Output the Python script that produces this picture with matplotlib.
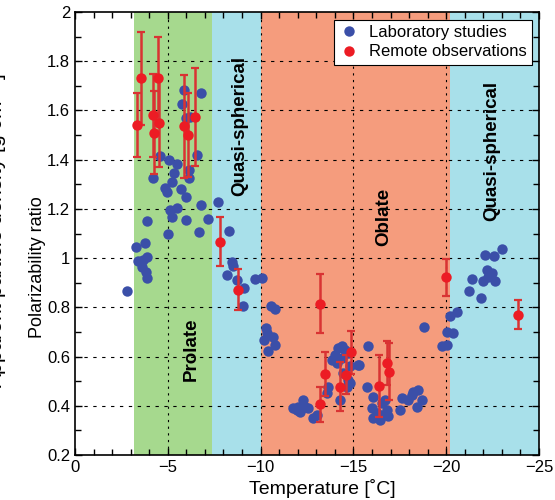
import matplotlib
matplotlib.use('agg')
import matplotlib.pyplot as plt
from matplotlib.ticker import MultipleLocator

plt.rcParams['font.family'] = ['Liberation Sans', 'DejaVu Sans']

# laboratory studies (temperature, polarizability ratio)
lab_t = [-2.78, -3.29, -3.77, -3.41, -3.68, -3.9, -3.59, -3.83, -3.9, -3.9,
         -4.19, -4.58, -4.85, -4.95, -5.06, -5.33, -5.48, -5.21,
         -5.89, -5.75, -6.77, -5.98, -6.2, -6.57, -6.16, -6.14, -5.69, -5.98,
         -7.7, -6.8, -5.12, -5.48, -5.21, -5.98, -7.18, -4.99, -6.7, -8.28,
         -8.44, -8.5, -8.17, -8.71, -9.12, -9.07, -9.7, -10.08,
         -10.56, -10.78, -10.27, -10.33, -10.18, -10.68, -10.78, -10.42,
         -11.76, -12.03, -12.3, -12.39, -12.12, -12.57, -12.84, -13.02, -11.94,
         -13.65, -13.56, -14.28,
         -13.83, -14.01, -14.19, -14.37, -14.55, -14.1, -14.37, -14.73, -14.82,
         -14.46, -14.73, -14.64, -15.27,
         -15.8, -15.32, -14.82, -15.72, -16.04,
         -15.98, -16.25, -16.07, -16.43, -16.61, -16.79, -16.88, -16.7, -16.52,
         -17.51, -17.6, -17.96, -18.14, -18.23, -18.5, -18.68, -18.41,
         -18.8, -19.76, -20.02, -20.02, -20.38, -20.2, -20.6,
         -21.21, -21.41, -21.88, -22.0, -22.21, -22.45, -22.63, -22.09, -22.59,
         -23.02, -22.27]
lab_ratio = [0.868, 1.045, 1.06, 0.99, 0.993, 1.004, 0.962, 0.943, 0.92, 1.15,
             1.325, 1.413, 1.284, 1.267, 1.40, 1.346, 1.383, 1.311,
             1.684, 1.627, 1.671, 1.569, 1.573, 1.417, 1.325, 1.359, 1.282, 1.25,
             1.228, 1.215, 1.197, 1.203, 1.169, 1.156, 1.16, 1.10, 1.105, 1.112,
             0.986, 0.969, 0.932, 0.912, 0.878, 0.805, 0.916, 0.918,
             0.806, 0.793, 0.715, 0.695, 0.668, 0.678, 0.647, 0.622,
             0.39, 0.397, 0.424, 0.397, 0.376, 0.39, 0.35, 0.364, 0.383,
             0.478, 0.451, 0.424,
             0.587, 0.607, 0.634, 0.641, 0.627, 0.573, 0.593, 0.614, 0.56,
             0.533, 0.505, 0.478, 0.566,
             0.641, 0.566, 0.492, 0.476, 0.435,
             0.39, 0.37, 0.35, 0.343, 0.364, 0.384, 0.357, 0.425, 0.411,
             0.384, 0.431, 0.424, 0.445, 0.458, 0.465, 0.424, 0.397,
             0.72, 0.641, 0.648, 0.698, 0.695, 0.765, 0.783,
             0.867, 0.915, 0.837, 0.905, 0.952, 0.941, 0.908, 1.013, 1.007,
             1.037, 0.925]

# remote observations with error bars
obs_t = [-3.36, -3.56, -4.18, -4.27, -4.49, -4.51, -5.89, -6.07, -6.48,
         -7.79, -8.8,
         -13.22, -13.22, -13.49, -14.3, -14.58, -14.89, -16.4, -16.8, -16.9,
         -19.99, -23.89]
obs_ratio = [1.54, 1.73, 1.58, 1.51, 1.73, 1.55, 1.535, 1.50, 1.573,
             1.067, 0.871,
             0.814, 0.406, 0.528, 0.477, 0.526, 0.617, 0.481, 0.573, 0.539,
             0.923, 0.77]
obs_err = [0.13, 0.19, 0.17, 0.17, 0.17, 0.18, 0.21, 0.17, 0.2,
           0.1, 0.083,
           0.12, 0.07, 0.09, 0.1, 0.08, 0.086, 0.125, 0.09, 0.115,
           0.075, 0.06]

# habit regimes: (start, end, colour, label, label x, label y)
regimes = [(-3.18, -7.4, '#a6d98e', 'Prolate', -6.29, 0.631),
           (-7.4, -10.0, '#a8e0ea', 'Quasi-spherical', -8.89, 1.538),
           (-10.0, -20.2, '#f59c7d', 'Oblate', -16.61, 1.168),
           (-20.2, -25.0, '#a8e0ea', 'Quasi-spherical', -22.45, 1.436)]

fig = plt.figure(figsize=(5.55, 5.0), dpi=100)
ax = fig.add_axes([75/555, 45/500, 464/555, 443/500])

for x0, x1, c, lab, lx, ly in regimes:
    ax.axvspan(x0, x1, color=c, lw=0, zorder=0)
    ax.text(lx, ly, lab, rotation=90, ha='center', va='center',
            fontsize=13.5, fontweight='bold', zorder=2)

for yv in [0.4, 0.6, 0.8, 1.0, 1.2, 1.4, 1.6, 1.8]:
    ax.axhline(yv, color='k', lw=0.8, ls=(0, (3, 5)), zorder=1)
for xv in [-5, -10, -15, -20]:
    ax.axvline(xv, color='k', lw=0.8, ls=(0, (2, 4)), zorder=1)

ax.plot(lab_t, lab_ratio, 'o', color='#3b4fa8', ms=7.5, mec='none',
        zorder=3, label='Laboratory studies')
ax.errorbar(obs_t, obs_ratio, yerr=obs_err, fmt='none', ecolor='#d93333',
            elinewidth=1.8, capsize=3, capthick=1.6, zorder=4)
ax.plot(obs_t, obs_ratio, 'o', color='#ec1c24', ms=7.5, mec='none',
        zorder=5, label='Remote observations')

ax.set_xlim(0, -25)
ax.set_ylim(0.2, 2)
ax.xaxis.set_major_locator(MultipleLocator(5))
ax.xaxis.set_minor_locator(MultipleLocator(1))
ax.yaxis.set_minor_locator(MultipleLocator(0.1))
ax.set_yticks([0.2, 0.4, 0.6, 0.8, 1.0, 1.2, 1.4, 1.6, 1.8, 2.0])
ax.set_yticklabels(['0.2', '0.4', '0.6', '0.8', '1', '1.2', '1.4', '1.6', '1.8', '2'])
ax.tick_params(which='both', direction='in', top=True, right=True, labelsize=12)
ax.tick_params(which='major', length=5, width=1)
ax.tick_params(which='minor', length=4, width=1)
for s in ax.spines.values():
    s.set_linewidth(1.2)

ax.set_xlabel('Temperature [˚C]', fontsize=14)
ax.set_ylabel('Polarizability ratio', fontsize=13)
ax.xaxis.set_label_coords(0.532, -0.055)
ax.yaxis.set_label_coords(-0.062, 0.424)

leg = ax.legend(loc='upper right', fontsize=12, fancybox=False, framealpha=1,
                edgecolor='k', borderaxespad=0.45, labelspacing=0.3,
                handletextpad=0.6, handlelength=1.2, borderpad=0.3)
leg.get_frame().set_linewidth(0.8)

# label of the neighbouring panel, cut off at the left edge as in the source
fig.text(0.018, 0.54, 'Apparent particle density [g cm$^{-3}$]', rotation=90,
         ha='right', va='center', fontsize=15)

fig.savefig('out.png', dpi=100)
